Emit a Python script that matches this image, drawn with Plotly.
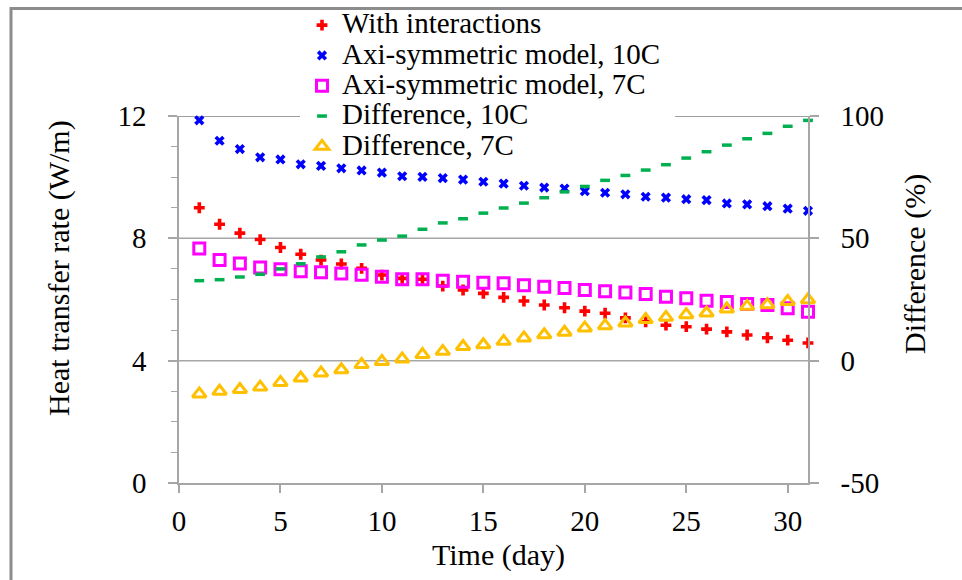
import plotly.graph_objects as go

days = list(range(1, 32))
with_interactions = [9.00, 8.46, 8.17, 7.96, 7.70, 7.48, 7.29, 7.16, 7.02, 6.80, 6.69, 6.66, 6.44, 6.31, 6.20,
                     6.07, 5.95, 5.82, 5.73, 5.62, 5.55, 5.40, 5.27, 5.16, 5.11, 5.03, 4.94, 4.84, 4.75, 4.67, 4.58]
axi_10c = [11.86, 11.19, 10.92, 10.65, 10.58, 10.42, 10.37, 10.29, 10.22, 10.15, 10.03, 10.01, 9.97, 9.92, 9.85,
           9.79, 9.72, 9.66, 9.63, 9.54, 9.49, 9.44, 9.36, 9.33, 9.28, 9.25, 9.14, 9.11, 9.05, 8.97, 8.90]
axi_7c = [7.67, 7.29, 7.18, 7.05, 6.99, 6.92, 6.89, 6.85, 6.81, 6.74, 6.66, 6.66, 6.61, 6.58, 6.55,
          6.53, 6.47, 6.42, 6.38, 6.31, 6.27, 6.23, 6.18, 6.09, 6.04, 5.96, 5.92, 5.85, 5.82, 5.71, 5.60]
diff_10c = [32.7, 33.1, 34.2, 35.3, 37.5, 39.6, 42.4, 44.5, 47.3, 49.3, 50.9, 53.7, 56.3, 58.0, 60.3,
            62.4, 64.4, 66.6, 69.0, 71.2, 73.7, 75.7, 77.9, 80.1, 82.8, 85.4, 88.1, 90.7, 92.9, 95.8, 98.2]
diff_7c = [-13.6, -12.5, -11.8, -10.8, -8.9, -7.1, -5.0, -3.7, -1.6, -0.3, 0.7, 2.5, 3.8, 5.8, 6.5,
           7.9, 9.3, 10.6, 11.6, 13.4, 14.3, 15.4, 16.8, 17.7, 18.8, 19.5, 21.1, 22.2, 22.9, 24.2, 24.9]

series_names = ["With interactions", "Axi-symmetric model, 10C", "Axi-symmetric model, 7C",
                "Difference, 10C", "Difference, 7C"]
x_ticks = [0, 5, 10, 15, 20, 25, 30]
y_ticks = [0, 4, 8, 12]
y_grid = [4, 8]
y2_ticks = [-50, 0, 50, 100]
y2_labels = ["-50", "0", "50", "100"]

FONT = "Liberation Serif"
GRAY = "#A6A6A6"
DARK = "#7F7F7F"

def lname(s):
    return '<span style="font-size:29px">' + s + '</span>'

fig = go.Figure()
fig.add_trace(go.Scatter(x=days, y=with_interactions, mode="markers", name=lname(series_names[0]),
                         marker=dict(symbol="cross", size=9, color="#FF0000"), cliponaxis=False))
fig.add_trace(go.Scatter(x=days, y=axi_10c, mode="markers", name=lname(series_names[1]),
                         marker=dict(symbol="x", size=9, color="#0000FF"), cliponaxis=False))
fig.add_trace(go.Scatter(x=days, y=axi_7c, mode="markers", name=lname(series_names[2]),
                         marker=dict(symbol="square-open", size=11, color="#FF00FF",
                                     line=dict(width=3, color="#FF00FF")), cliponaxis=False))
fig.add_trace(go.Scatter(x=days, y=diff_10c, mode="markers", name=lname(series_names[3]), yaxis="y2",
                         marker=dict(symbol="line-ew", size=7, color="#00B050",
                                     line=dict(width=3.5, color="#00B050")), cliponaxis=False))
fig.add_trace(go.Scatter(x=days, y=diff_7c, mode="markers", name=lname(series_names[4]), yaxis="y2",
                         marker=dict(symbol="triangle-up-open", size=12, color="#FFC000",
                                     line=dict(width=3, color="#FFC000")), cliponaxis=False))

W, H = 962, 580
L, R, T, B = 179, 808, 116, 483
pw, ph = R - L, B - T

def px(xp):
    return (xp - L) / pw

def py(yp):
    return (B - yp) / ph

shapes = [
    dict(type="line", xref="paper", yref="paper", x0=px(11), x1=px(970), y0=py(8.5), y1=py(8.5),
         line=dict(color="#8C8C8C", width=3), layer="above"),
    dict(type="line", xref="paper", yref="paper", x0=px(11), x1=px(11), y0=py(7), y1=py(590),
         line=dict(color="#8C8C8C", width=3), layer="above"),
    # top frame line at 12, interrupted by the legend box
    dict(type="line", xref="paper", yref="y", x0=0, x1=px(300), y0=12, y1=12,
         line=dict(color=DARK, width=1.5), layer="below"),
    dict(type="line", xref="paper", yref="y", x0=px(675), x1=1, y0=12, y1=12,
         line=dict(color=DARK, width=1.5), layer="below"),
]
for g in y_grid:
    shapes.append(dict(type="line", xref="paper", yref="y", x0=0, x1=1, y0=g, y1=g,
                       line=dict(color=GRAY, width=1.5), layer="below"))

fig.update_layout(
    width=W, height=H,
    margin=dict(l=L, r=W - R, t=T, b=H - B, pad=0, autoexpand=False),
    paper_bgcolor="white", plot_bgcolor="white",
    font=dict(family=FONT, size=29, color="black"),
    showlegend=True,
    legend=dict(x=px(302), y=py(5), xanchor="left", yanchor="top",
                bgcolor="rgba(0,0,0,0)", borderwidth=0, font=dict(family=FONT, size=21, color="black"),
                tracegroupgap=0),
    xaxis=dict(range=[0, 31], tickvals=x_ticks, ticks="outside", ticklen=8, tickcolor=GRAY, tickwidth=1.5,
               showline=True, linecolor=GRAY, linewidth=1.5, mirror=False, showgrid=False, zeroline=False,
               ticklabelstandoff=3, tickfont=dict(size=29), automargin=False),
    yaxis=dict(range=[0, 12], tickvals=y_ticks, ticks="outside", ticklen=9, tickcolor=GRAY, tickwidth=1.5,
               minor=dict(dtick=1, ticks="outside", ticklen=6, tickcolor=GRAY, tickwidth=1.2, showgrid=False),
               showline=True, linecolor=GRAY, linewidth=1.5, showgrid=False, automargin=False,
               zeroline=False, ticklabelstandoff=16, tickfont=dict(size=29)),
    yaxis2=dict(range=[-50, 100], tickvals=y2_ticks, ticktext=y2_labels, overlaying="y", side="right",
                ticks="outside", ticklen=9, tickcolor=GRAY, tickwidth=1.5, showline=True, linecolor=GRAY,
                linewidth=1.5, showgrid=False, zeroline=False, ticklabelstandoff=16, tickfont=dict(size=29),
                automargin=False),
    annotations=[
        dict(text="Heat transfer rate (W/m)", textangle=-90, x=px(59), y=py(268), xref="paper", yref="paper",
             showarrow=False, xanchor="center", yanchor="middle", font=dict(family=FONT, size=30)),
        dict(text="Difference (%)", textangle=-90, x=px(915), y=py(264), xref="paper", yref="paper",
             showarrow=False, xanchor="center", yanchor="middle", font=dict(family=FONT, size=30)),
        dict(text="Time (day)", x=px(498), y=py(555), xref="paper", yref="paper",
             showarrow=False, xanchor="center", yanchor="middle", font=dict(family=FONT, size=30)),
    ],
    shapes=shapes,
)

fig.write_html("out.html")
